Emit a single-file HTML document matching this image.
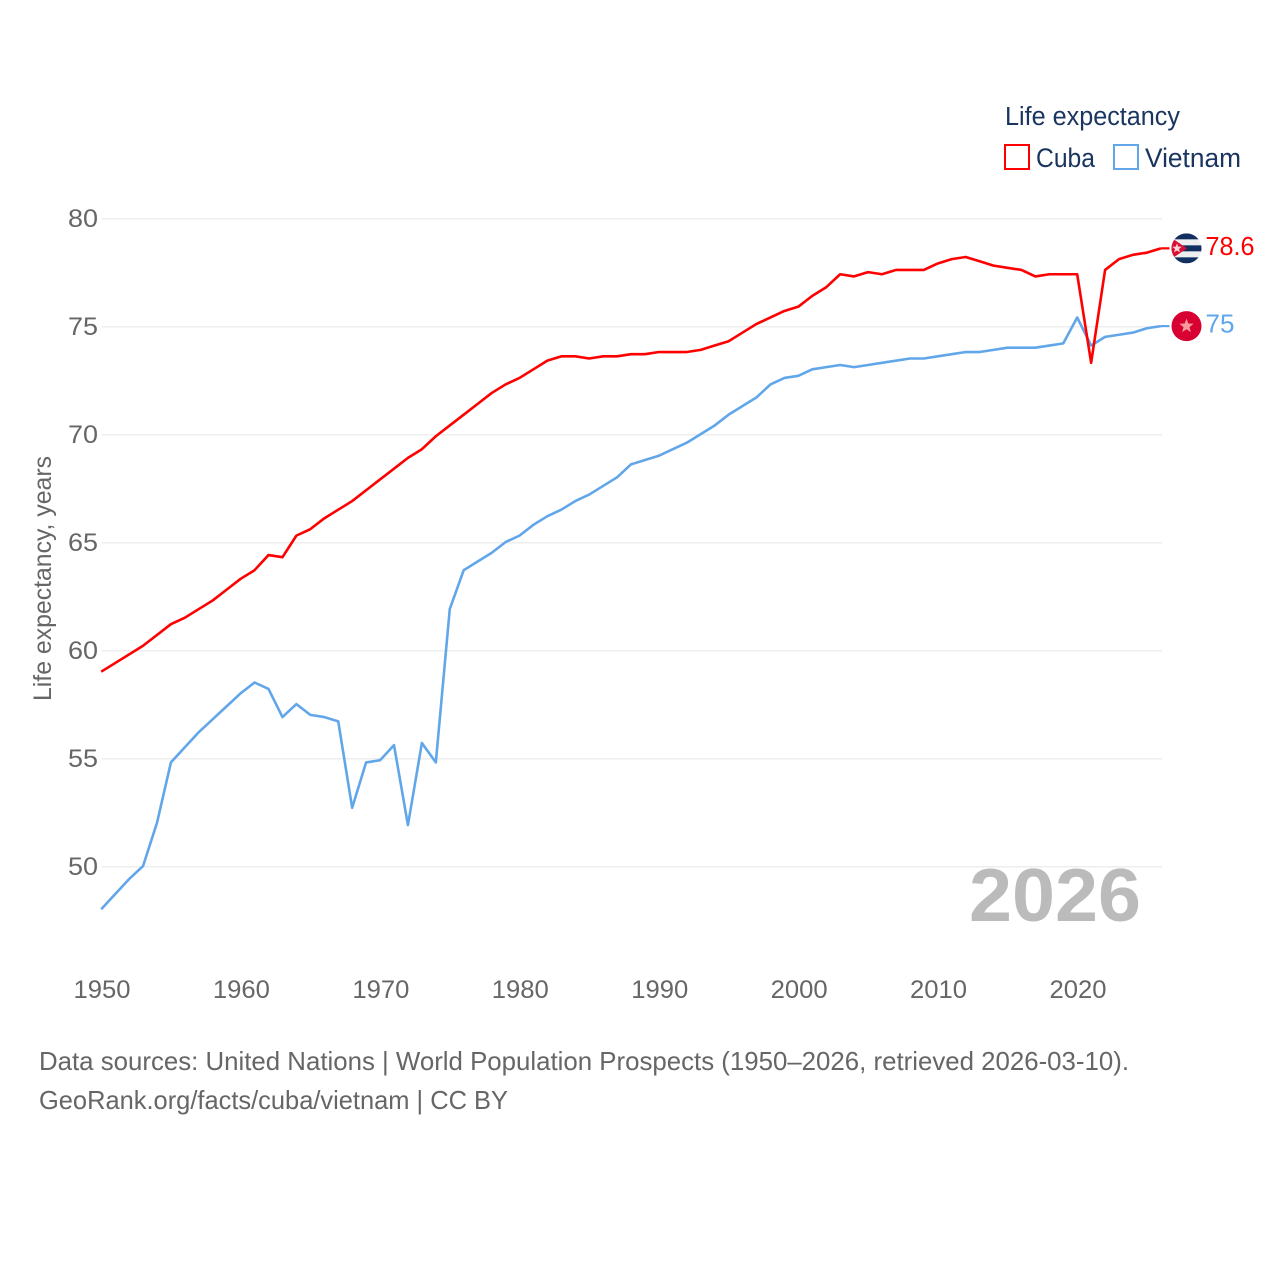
<!DOCTYPE html>
<html>
<head>
<meta charset="utf-8">
<title>Life expectancy: Cuba and Vietnam</title>
<style>
html,body{margin:0;padding:0;background:#fff;width:1280px;height:1280px;overflow:hidden}
svg{display:block}
text{font-family:"Liberation Sans",sans-serif}
</style>
</head>
<body>
<svg id="chart" width="1280" height="1280" viewBox="0 0 1280 1280" xmlns="http://www.w3.org/2000/svg">
<rect width="1280" height="1280" fill="#fff"/>
<g id="grid"></g>
<text x="1141" y="921" text-anchor="end" font-size="75" font-weight="700" fill="#bbb" textLength="172" lengthAdjust="spacingAndGlyphs">2026</text>
<g id="ylabels"></g>
<g id="xlabels"></g>
<text transform="translate(51,701) rotate(-90)" font-size="25" fill="#666" textLength="245" lengthAdjust="spacingAndGlyphs">Life expectancy, years</text>
<g id="series"></g>
<g id="endmarks"></g>
<g>
<text x="1005" y="125" font-size="25.5" fill="#1a3560" textLength="175" lengthAdjust="spacingAndGlyphs">Life expectancy</text>
<g>
<rect x="1005" y="145" width="24" height="24" fill="none" stroke="#ff0000" stroke-width="2"/>
<text x="1036" y="167" font-size="26.5" fill="#1a3560" textLength="59" lengthAdjust="spacingAndGlyphs">Cuba</text>
</g>
<g>
<rect x="1114" y="145" width="24" height="24" fill="none" stroke="#62a6ea" stroke-width="2"/>
<text x="1145" y="167" font-size="26.5" fill="#1a3560" textLength="96" lengthAdjust="spacingAndGlyphs">Vietnam</text>
</g>
</g>
<text x="39" y="1070" font-size="26" fill="#666" textLength="1090" lengthAdjust="spacingAndGlyphs">Data sources: United Nations | World Population Prospects (1950–2026, retrieved 2026-03-10).</text>
<text x="39" y="1109" font-size="26" fill="#666" textLength="469" lengthAdjust="spacingAndGlyphs">GeoRank.org/facts/cuba/vietnam | CC BY</text>
</svg>
<script>
const startYear = 1950;
const yTicks = [50, 55, 60, 65, 70, 75, 80];
const xTicks = [1950, 1960, 1970, 1980, 1990, 2000, 2010, 2020];
const cubaValues = [59.0,59.4,59.8,60.2,60.7,61.2,61.5,61.9,62.3,62.8,63.3,63.7,64.4,64.3,65.3,65.6,66.1,66.5,66.9,67.4,67.9,68.4,68.9,69.3,69.9,70.4,70.9,71.4,71.9,72.3,72.6,73.0,73.4,73.6,73.6,73.5,73.6,73.6,73.7,73.7,73.8,73.8,73.8,73.9,74.1,74.3,74.7,75.1,75.4,75.7,75.9,76.4,76.8,77.4,77.3,77.5,77.4,77.6,77.6,77.6,77.9,78.1,78.2,78.0,77.8,77.7,77.6,77.3,77.4,77.4,77.4,73.3,77.6,78.1,78.3,78.4,78.6];
const vietnamValues = [48.0,48.7,49.4,50.0,52.0,54.8,55.5,56.2,56.8,57.4,58.0,58.5,58.2,56.9,57.5,57.0,56.9,56.7,52.7,54.8,54.9,55.6,51.9,55.7,54.8,61.9,63.7,64.1,64.5,65.0,65.3,65.8,66.2,66.5,66.9,67.2,67.6,68.0,68.6,68.8,69.0,69.3,69.6,70.0,70.4,70.9,71.3,71.7,72.3,72.6,72.7,73.0,73.1,73.2,73.1,73.2,73.3,73.4,73.5,73.5,73.6,73.7,73.8,73.8,73.9,74.0,74.0,74.0,74.1,74.2,75.4,74.1,74.5,74.6,74.7,74.9,75.0];
const cubaLabel = "78.6";
const vietnamLabel = "75";

const NS = 'http://www.w3.org/2000/svg';
function xScale(year) { return 102 + (year - 1950) * (1078 - 102) / 70; }
function yScale(value) { return 867 - (value - 50) * 21.6; }
function lineX(year) { return xScale(year) - 0.8; }
function lineY(value) { return yScale(value) - 0.9; }
function make(tag, attrs, parent, txt) {
  const el = document.createElementNS(NS, tag);
  for (const k in attrs) el.setAttribute(k, attrs[k]);
  if (txt !== undefined) el.textContent = txt;
  parent.appendChild(el);
  return el;
}
const grid = document.getElementById('grid');
const ylabels = document.getElementById('ylabels');
const xlabels = document.getElementById('xlabels');
const series = document.getElementById('series');
const endmarks = document.getElementById('endmarks');

yTicks.forEach(function (t) {
  const line = make('line', {x1: 101.5, x2: 1162, y1: yScale(t) - 0.3, y2: yScale(t) - 0.3, stroke: '#eeeeee', 'stroke-width': 1.5}, grid);
  
  
  const lab = make('text', {x: 98, y: yScale(t) + 8, 'text-anchor': 'end', 'font-size': 25, fill: '#666', textLength: 30, lengthAdjust: 'spacingAndGlyphs'}, ylabels, String(t));
  
  
});
xTicks.forEach(function (t) {
  const lab = make('text', {x: xScale(t), y: 998, 'text-anchor': 'middle', 'font-size': 25, fill: '#666', textLength: 57, lengthAdjust: 'spacingAndGlyphs'}, xlabels, String(t));
  
  
});
function pathFor(values) {
  return values.map(function (v, i) {
    return (i ? 'L' : 'M') + lineX(startYear + i).toFixed(2) + ' ' + lineY(v).toFixed(2);
  }).join(' ');
}
const vietnamLine = make('path', {d: pathFor(vietnamValues), fill: 'none', stroke: '#62a6ea', 'stroke-width': 2.6, 'stroke-linejoin': 'round'}, series);


const cubaLine = make('path', {d: pathFor(cubaValues), fill: 'none', stroke: '#ff0000', 'stroke-width': 2.6, 'stroke-linejoin': 'round'}, series);



function star(cx, cy, r, fill, parent) {
  const pts = [];
  for (let i = 0; i < 10; i++) {
    const rad = i % 2 ? r * 0.42 : r;
    const a = -Math.PI / 2 + i * Math.PI / 5;
    pts.push((cx + rad * Math.cos(a)).toFixed(2) + ',' + (cy + rad * Math.sin(a)).toFixed(2));
  }
  return make('polygon', {points: pts.join(' '), fill: fill}, parent);
}

const flagX = 1186.5;
const flagLeft = flagX - 15;

// Cuba end marker
const cLast = cubaValues[cubaValues.length - 1];
const cEndX = lineX(startYear + cubaValues.length - 1);
const cY = lineY(cLast);
const cConn = make('line', {x1: cEndX, x2: 1169.5, y1: cY, y2: cY, stroke: '#ff0000', 'stroke-width': 2.2}, endmarks);


const cFlag = make('g', {}, endmarks);


const clipC = make('clipPath', {id: 'clipCuba'}, cFlag);
make('circle', {cx: flagX, cy: cY, r: 15}, clipC);
const cInner = make('g', {'clip-path': 'url(#clipCuba)'}, cFlag);
make('rect', {x: flagLeft, y: cY - 15, width: 30, height: 30, fill: '#eeeeee'}, cInner);
make('rect', {x: flagLeft, y: cY - 15, width: 30, height: 6, fill: '#12305f'}, cInner);
make('rect', {x: flagLeft, y: cY - 3, width: 30, height: 6, fill: '#12305f'}, cInner);
make('rect', {x: flagLeft, y: cY + 9, width: 30, height: 6, fill: '#12305f'}, cInner);
make('polygon', {points: flagLeft + ',' + (cY - 10.5) + ' ' + (flagX + 0.5) + ',' + cY + ' ' + flagLeft + ',' + (cY + 10.5), fill: '#d80f35'}, cInner);
star(1177, cY, 5, '#f6d5d5', cInner);
const cLab = make('text', {x: 1205.5, y: cY + 6.5, 'font-size': 25.5, fill: '#ff0000', textLength: 49, lengthAdjust: 'spacingAndGlyphs'}, endmarks, cubaLabel);



// Vietnam end marker
const vLast = vietnamValues[vietnamValues.length - 1];
const vEndX = lineX(startYear + vietnamValues.length - 1);
const vY = lineY(vLast);
const vConn = make('line', {x1: vEndX, x2: 1169.5, y1: vY, y2: vY, stroke: '#62a6ea', 'stroke-width': 2.2}, endmarks);


const vFlag = make('g', {}, endmarks);


make('circle', {cx: flagX, cy: vY, r: 15, fill: '#d80032'}, vFlag);
star(flagX, vY, 7.5, '#f99a9a', vFlag);
const vLab = make('text', {x: 1205.5, y: vY + 6.5, 'font-size': 25.5, fill: '#62a6ea', textLength: 29, lengthAdjust: 'spacingAndGlyphs'}, endmarks, vietnamLabel);


</script>
</body>
</html>
